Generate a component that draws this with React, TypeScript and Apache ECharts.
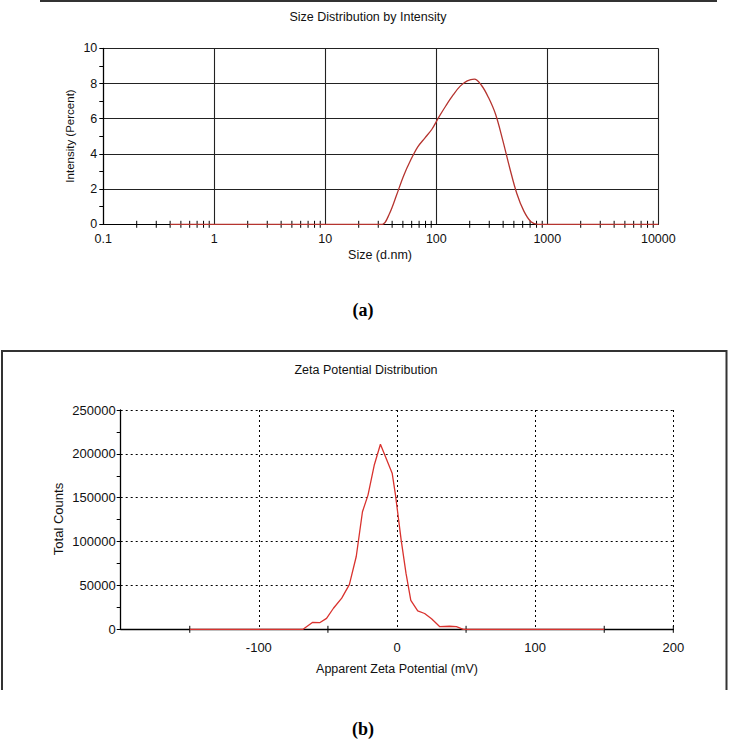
import React, { useEffect, useRef } from "react";
import * as echarts from "echarts";

// ---- (a) Size Distribution by Intensity ----
const sizeNm = [0.4, 28.2, 32.7, 37.8, 43.8, 50.7, 58.8, 68.1, 78.8, 91.3, 105.7, 122.4, 141.8, 164.2, 190.1, 220.2, 255.0, 295.3, 342.0, 396.1, 458.7, 531.2, 615.1, 712.4, 825.0, 955.4, 10000];
const intensityPct = [0, 0, 0, 0.6, 1.65, 2.75, 3.65, 4.4, 4.9, 5.4, 6.1, 6.75, 7.35, 7.85, 8.15, 8.25, 7.9, 7.2, 6.25, 4.8, 3.2, 1.75, 0.75, 0.15, 0, 0, 0];
const sizeMinorTicks = [
  0.2, 0.3, 0.4, 0.5, 0.6, 0.7, 0.8, 0.9,
  2, 3, 4, 5, 6, 7, 8, 9,
  20, 30, 40, 50, 60, 70, 80, 90,
  200, 300, 400, 500, 600, 700, 800, 900,
  2000, 3000, 4000, 5000, 6000, 7000, 8000, 9000,
];

// ---- (b) Zeta Potential Distribution ----
const zetaMv = [-150, -68, -61, -56, -51, -46, -40, -34.5, -29.5, -25, -21, -16.5, -12, -3.5, -1, 3, 6.5, 10, 15, 20, 25, 31, 38, 43, 48, 150];
const totalCounts = [0, 0, 8000, 7500, 12500, 24000, 35500, 51000, 83000, 134000, 153000, 187000, 211000, 178000, 152000, 102000, 64000, 33000, 21000, 18000, 12000, 3000, 3500, 3000, 0, 0];
const zetaTicks = [-150, -50, 50, 150, 200];

const SANS = "'Liberation Sans', Arial, sans-serif";
const SERIF = "'Liberation Serif', 'Times New Roman', serif";

function tickRender(params: any, api: any) {
  const p = api.coord([api.value(0), 0]);
  return {
    type: "line",
    shape: { x1: p[0], y1: p[1] - 3.5, x2: p[0], y2: p[1] + 3.5 },
    style: { stroke: "#000", lineWidth: 1 },
  };
}

export default function App() {
  const ref = useRef<HTMLDivElement>(null);
  useEffect(() => {
    if (!ref.current) return;
    const chart = echarts.init(ref.current, undefined, { renderer: "svg" });
    const txt = (x: number, y: number, text: string, size: number, extra: any = {}) => ({
      type: "text",
      x,
      y,
      ...extra,
      style: {
        text,
        fontSize: size,
        fontFamily: SANS,
        fill: "#111",
        textAlign: "center",
        textVerticalAlign: "middle",
        ...(extra.style || {}),
      },
    });
    const option: any = {
      animation: false,
      backgroundColor: "#fff",
      grid: [
        { left: 103.3, top: 48.3, width: 555, height: 176 },
        { left: 120.7, top: 410, width: 552.6, height: 219.3 },
      ],
      xAxis: [
        {
          type: "log",
          logBase: 10,
          gridIndex: 0,
          min: 0.1,
          max: 10000,
          axisLine: { show: true, onZero: false, lineStyle: { color: "#000", width: 1.2 } },
          axisTick: { show: false },
          axisLabel: {
            fontSize: 12.5,
            fontFamily: SANS,
            color: "#111",
            margin: 8,
            formatter: (v: number) => (v < 1 ? v.toFixed(1) : String(Math.round(v))),
          },
          splitLine: { show: true, lineStyle: { color: "#222", width: 1.1, type: "solid" } },
        },
        {
          type: "value",
          gridIndex: 1,
          min: -200,
          max: 200,
          interval: 100,
          axisLine: { show: true, onZero: false, lineStyle: { color: "#000", width: 1.3 } },
          axisTick: { show: false },
          axisLabel: {
            fontSize: 13,
            fontFamily: SANS,
            color: "#111",
            margin: 12,
            formatter: (v: number) => (v === -200 ? "" : String(v)),
          },
          splitLine: { show: true, lineStyle: { color: "#000", width: 1, type: [2, 3] } },
        },
      ],
      yAxis: [
        {
          type: "value",
          gridIndex: 0,
          min: 0,
          max: 10,
          interval: 2,
          axisLine: { show: true, onZero: false, lineStyle: { color: "#000", width: 1.2 } },
          axisTick: { show: true, length: 4, lineStyle: { color: "#000" } },
          minorTick: { show: true, splitNumber: 2, length: 4, lineStyle: { color: "#000" } },
          axisLabel: { fontSize: 12.5, fontFamily: SANS, color: "#111", margin: 6 },
          splitLine: { show: true, lineStyle: { color: "#222", width: 1.1, type: "solid" } },
        },
        {
          type: "value",
          gridIndex: 1,
          min: 0,
          max: 250000,
          interval: 50000,
          axisLine: { show: true, onZero: false, lineStyle: { color: "#000", width: 1.3 } },
          axisTick: { show: true, length: 4, lineStyle: { color: "#000" } },
          minorTick: { show: true, splitNumber: 2, length: 4, lineStyle: { color: "#000" } },
          axisLabel: {
            fontSize: 13,
            fontFamily: SANS,
            color: "#111",
            margin: 5,
            formatter: (v: number) => String(v),
          },
          splitLine: { show: true, lineStyle: { color: "#000", width: 1, type: [2, 3] } },
        },
      ],
      series: [
        {
          type: "line",
          xAxisIndex: 0,
          yAxisIndex: 0,
          data: sizeNm.map((s, i) => [s, intensityPct[i]]),
          smooth: 0.35,
          showSymbol: false,
          lineStyle: { color: "#b5342f", width: 1.3 },
          z: 5,
        },
        {
          type: "custom",
          xAxisIndex: 0,
          yAxisIndex: 0,
          data: sizeMinorTicks.map((v) => [v, 0]),
          encode: { x: 0, y: 1 },
          renderItem: tickRender,
          silent: true,
          z: 4,
        },
        {
          type: "line",
          xAxisIndex: 1,
          yAxisIndex: 1,
          data: zetaMv.map((v, i) => [v, totalCounts[i]]),
          smooth: false,
          showSymbol: false,
          lineStyle: { color: "#d9322e", width: 1.3 },
          z: 5,
        },
        {
          type: "custom",
          xAxisIndex: 1,
          yAxisIndex: 1,
          data: zetaTicks.map((v) => [v, 0]),
          encode: { x: 0, y: 1 },
          renderItem: tickRender,
          silent: true,
          z: 4,
        },
      ],
      graphic: [
        { type: "line", shape: { x1: 40, y1: 1, x2: 717, y2: 1 }, style: { stroke: "#333", lineWidth: 2 } },
        {
          type: "polyline",
          shape: { points: [[2, 690], [2, 351], [726.5, 351], [726.5, 690]] },
          style: { stroke: "#333", lineWidth: 2, fill: null },
        },
        txt(368, 17, "Size Distribution by Intensity", 12.5),
        txt(70, 136, "Intensity (Percent)", 11.5, { rotation: Math.PI / 2 }),
        txt(380, 255, "Size (d.nm)", 12.5),
        txt(366, 370, "Zeta Potential Distribution", 12.5),
        txt(58, 519, "Total Counts", 13, { rotation: Math.PI / 2 }),
        txt(397, 669, "Apparent Zeta Potential (mV)", 12.5),
        {
          type: "text",
          x: 363,
          y: 310,
          style: { text: "(a)", fontSize: 18, fontWeight: "bold", fontFamily: SERIF, fill: "#000", textAlign: "center", textVerticalAlign: "middle" },
        },
        {
          type: "text",
          x: 363,
          y: 729,
          style: { text: "(b)", fontSize: 18, fontWeight: "bold", fontFamily: SERIF, fill: "#000", textAlign: "center", textVerticalAlign: "middle" },
        },
      ],
    };
    chart.setOption(option);
    return () => chart.dispose();
  }, []);
  return (
    <div
      ref={ref}
      style={{ position: "absolute", left: 0, top: 0, width: 729, height: 741, background: "#fff" }}
    />
  );
}
